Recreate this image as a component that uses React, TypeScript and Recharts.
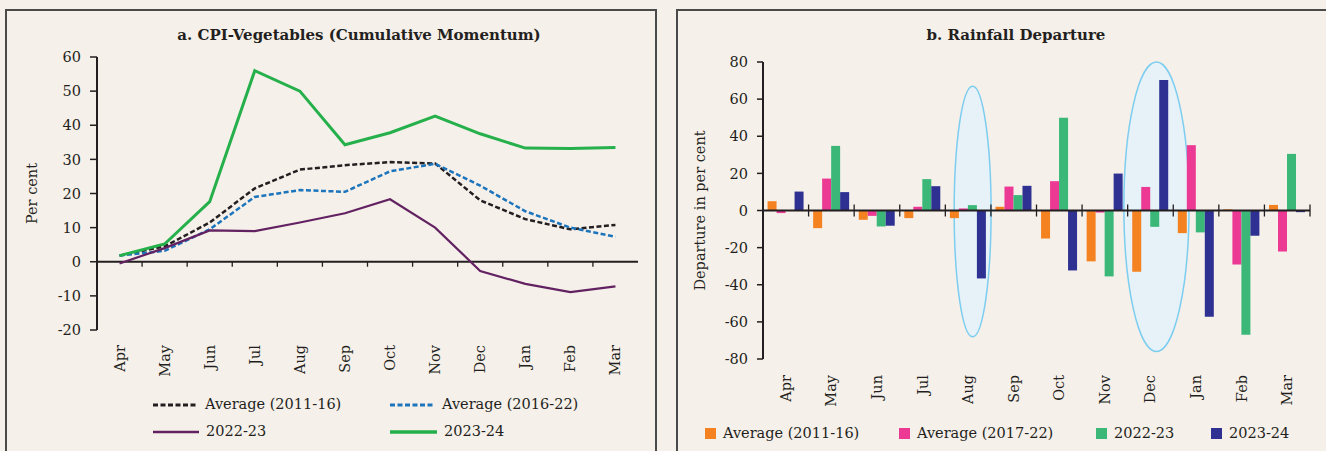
import {
  LineChart,
  Line,
  BarChart,
  Bar,
  XAxis,
  YAxis,
  ReferenceLine,
  ReferenceArea,
} from "recharts"

const months = ["Apr", "May", "Jun", "Jul", "Aug", "Sep", "Oct", "Nov", "Dec", "Jan", "Feb", "Mar"]

// a. CPI-Vegetables (cumulative momentum, per cent)
const cpiAvg1116 = [1.8, 4.5, 11.5, 21.5, 27, 28.3, 29.2, 28.8, 18, 12.5, 9.5, 10.8]
const cpiAvg1622 = [1.8, 3.2, 9.5, 19, 21, 20.5, 26.5, 28.7, 22.3, 14.8, 10, 7.3]
const cpi2223 = [-0.5, 4, 9.2, 9, 11.5, 14.2, 18.3, 10, -2.7, -6.5, -8.9, -7.2]
const cpi2324 = [1.8, 5.2, 17.6, 56, 50, 34.3, 37.8, 42.7, 37.5, 33.3, 33.2, 33.5]
const cpiTicks = [-20, -10, 0, 10, 20, 30, 40, 50, 60]

// b. Rainfall departure (per cent)
const rainAvg1116 = [5, -9.5, -5, -4.1, -4.1, 2, -15.1, -27.4, -33, -12.2, 0.6, 3]
const rainAvg1722 = [-1.4, 17.2, -2.9, 2, 1.1, 12.9, 15.8, -1.1, 12.7, 35.2, -29.1, -22.1]
const rain2223 = [0, 34.8, -8.6, 16.9, 2.9, 8.3, 49.9, -35.5, -8.8, -11.8, -66.9, 30.5]
const rain2324 = [10.2, 9.9, -8.2, 13.1, -36.6, 13.3, -32.3, 19.9, 70.3, -57.2, -13.6, -0.9]
const rainTicks = [-80, -60, -40, -20, 0, 20, 40, 60, 80]

const highlightMonths = ["Aug", "Dec"]
const highlightTop = [67, 80]
const highlightBottom = [-68, -76]

const cpiSeries = [
  { key: "avg1116", name: "Average (2011-16)", values: cpiAvg1116, color: "#231f20", width: 2.5, dash: "5 2.5" },
  { key: "avg1622", name: "Average (2016-22)", values: cpiAvg1622, color: "#1c75bc", width: 2.5, dash: "5 2.5" },
  { key: "y2223", name: "2022-23", values: cpi2223, color: "#622262", width: 2.2, dash: undefined },
  { key: "y2324", name: "2023-24", values: cpi2324, color: "#25b04b", width: 3, dash: undefined },
]

const rainSeries = [
  { key: "avg1116", name: "Average (2011-16)", values: rainAvg1116, color: "#f58220" },
  { key: "avg1722", name: "Average (2017-22)", values: rainAvg1722, color: "#ec3a94" },
  { key: "y2223", name: "2022-23", values: rain2223, color: "#3bb878" },
  { key: "y2324", name: "2023-24", values: rain2324, color: "#2e3192" },
]

const cpiData = months.map((month, i) => {
  const row: Record<string, string | number> = { month }
  cpiSeries.forEach((s) => (row[s.key] = s.values[i]))
  return row
})

const rainData = months.map((month, i) => {
  const row: Record<string, string | number> = { month }
  rainSeries.forEach((s) => (row[s.key] = s.values[i]))
  return row
})

const FONT = "'DejaVu Serif', serif"
const INK = "#231f20"
const BG = "#f6f0ea"

const MonthTick = ({ x, y, payload }: any) => (
  <text
    x={x}
    y={y}
    transform={`rotate(-90, ${x}, ${y})`}
    textAnchor="end"
    dominantBaseline="central"
    fill={INK}
    fontSize={14.5}
    fontFamily={FONT}
  >
    {payload.value}
  </text>
)

// zero axis drawn with the month boundary ticks
const zeroAxis = (up: number, down: number, withEnd: boolean) => (props: any) => {
  const { x1, x2, y1 } = props
  const step = (x2 - x1) / months.length
  const count = withEnd ? months.length : months.length - 1
  return (
    <g>
      <line x1={x1} y1={y1} x2={x2} y2={y1} stroke={INK} strokeWidth={2} />
      {Array.from({ length: count }, (_, i) => (
        <line
          key={i}
          x1={x1 + step * (i + 1)}
          x2={x1 + step * (i + 1)}
          y1={y1 - up}
          y2={y1 + down}
          stroke={INK}
          strokeWidth={1.3}
        />
      ))}
    </g>
  )
}

const ellipseShape = (stretch: number, shift: number) => (props: any) => {
  const { x, y, width, height } = props
  return (
    <ellipse
      cx={x + width / 2 + shift}
      cy={y + height / 2}
      rx={(width / 2) * stretch}
      ry={height / 2}
      fill="#e2f3fb"
      fillOpacity={0.8}
      stroke="#7dcdf0"
      strokeWidth={1.5}
    />
  )
}
const ellipseStyle = [
  { stretch: 0.81, shift: 4.5 },
  { stretch: 1.43, shift: 6 },
]

const panel = (left: number, width: number): React.CSSProperties => ({
  position: "absolute",
  left,
  top: 9,
  width,
  height: 470,
  border: "2px solid #4a4a4a",
  boxSizing: "border-box",
})

const title = (center: number): React.CSSProperties => ({
  position: "absolute",
  left: center - 250,
  width: 500,
  top: 26,
  textAlign: "center",
  fontWeight: "bold",
  fontSize: 15,
  color: INK,
  whiteSpace: "nowrap",
})

const legendText: React.CSSProperties = {
  position: "absolute",
  fontSize: 14.5,
  color: INK,
  whiteSpace: "nowrap",
  lineHeight: "18px",
}

const cpiLegendPos = [
  { x: 153, y: 405, len: 45 },
  { x: 390, y: 405, len: 45 },
  { x: 153, y: 432, len: 46 },
  { x: 390, y: 432, len: 47 },
]
const rainLegendX = [705, 899, 1096, 1211]

const App = () => {
  return (
    <div
      style={{
        position: "absolute",
        left: 0,
        top: 0,
        width: 1326,
        height: 451,
        background: BG,
        overflow: "hidden",
        fontFamily: FONT,
      }}
    >
      <div style={panel(5, 652)} />
      <div style={panel(676, 700)} />

      <div style={title(359)}>a. CPI-Vegetables (Cumulative Momentum)</div>
      <div style={title(1016)}>b. Rainfall Departure</div>

      <div style={{ position: "absolute", left: 0, top: 0 }}>
        <LineChart
          width={660}
          height={451}
          data={cpiData}
          margin={{ top: 57, right: 22, left: 0, bottom: 61 }}
        >
          <XAxis
            dataKey="month"
            scale="band"
            axisLine={false}
            tickLine={false}
            tickSize={6}
            tickMargin={9}
            height={60}
            interval={0}
            tick={<MonthTick />}
          />
          <YAxis
            width={97}
            domain={[-20, 60]}
            ticks={cpiTicks}
            interval={0}
            axisLine={{ stroke: INK, strokeWidth: 2 }}
            tickLine={{ stroke: INK, strokeWidth: 1.5 }}
            tickSize={7}
            tickMargin={9}
            tick={{ fill: INK, fontSize: 14.5, fontFamily: FONT }}
            label={{
              value: "Per cent",
              angle: -90,
              position: "insideLeft",
              offset: 32,
              style: { textAnchor: "middle", fill: INK, fontSize: 14.5, fontFamily: FONT },
            }}
          />
          <ReferenceLine y={0} shape={zeroAxis(0, 5, false)} />
          {cpiSeries.map((s) => (
            <Line
              key={s.key}
              dataKey={s.key}
              name={s.name}
              stroke={s.color}
              strokeWidth={s.width}
              strokeDasharray={s.dash}
              dot={false}
              type="linear"
              isAnimationActive={false}
            />
          ))}
        </LineChart>
      </div>

      {cpiSeries.map((s, i) => {
        const p = cpiLegendPos[i]
        return (
          <div key={s.key}>
            <svg
              style={{ position: "absolute", left: p.x, top: p.y - 3 }}
              width={p.len}
              height={6}
            >
              <line
                x1={0}
                x2={p.len}
                y1={3}
                y2={3}
                stroke={s.color}
                strokeWidth={s.width + 0.5}
                strokeDasharray={s.dash}
              />
            </svg>
            <div style={{ ...legendText, left: p.x + p.len + 7, top: p.y - 10 }}>{s.name}</div>
          </div>
        )
      })}

      <div style={{ position: "absolute", left: 663, top: 0 }}>
        <BarChart
          width={663}
          height={451}
          data={rainData}
          margin={{ top: 62, right: 16, left: 0, bottom: 32 }}
          barCategoryGap="10%"
          barGap={0}
        >
          <XAxis
            dataKey="month"
            axisLine={false}
            tickLine={false}
            tickSize={6}
            tickMargin={10}
            height={60}
            interval={0}
            tick={<MonthTick />}
          />
          <YAxis
            width={100}
            domain={[-80, 80]}
            ticks={rainTicks}
            interval={0}
            axisLine={{ stroke: INK, strokeWidth: 2 }}
            tickLine={{ stroke: INK, strokeWidth: 1.5 }}
            tickSize={6}
            tickMargin={9}
            tick={{ fill: INK, fontSize: 14.5, fontFamily: FONT }}
            label={{
              value: "Departure in per cent",
              angle: -90,
              position: "insideLeft",
              offset: 37,
              style: { textAnchor: "middle", fill: INK, fontSize: 14.5, fontFamily: FONT },
            }}
          />
          {highlightMonths.map((m, i) => (
            <ReferenceArea
              key={m}
              x1={m}
              x2={m}
              y1={highlightBottom[i]}
              y2={highlightTop[i]}
              ifOverflow="visible"
              shape={ellipseShape(ellipseStyle[i].stretch, ellipseStyle[i].shift)}
            />
          ))}
          {rainSeries.map((s) => (
            <Bar
              key={s.key}
              dataKey={s.key}
              name={s.name}
              fill={s.color}
              isAnimationActive={false}
            />
          ))}
          <ReferenceLine y={0} shape={zeroAxis(6, 6, true)} />
        </BarChart>
      </div>

      {rainSeries.map((s, i) => (
        <div key={s.key}>
          <div
            style={{
              position: "absolute",
              left: rainLegendX[i],
              top: 428,
              width: 11,
              height: 11,
              background: s.color,
            }}
          />
          <div style={{ ...legendText, left: rainLegendX[i] + 18, top: 424 }}>{s.name}</div>
        </div>
      ))}
    </div>
  )
}

export default App
